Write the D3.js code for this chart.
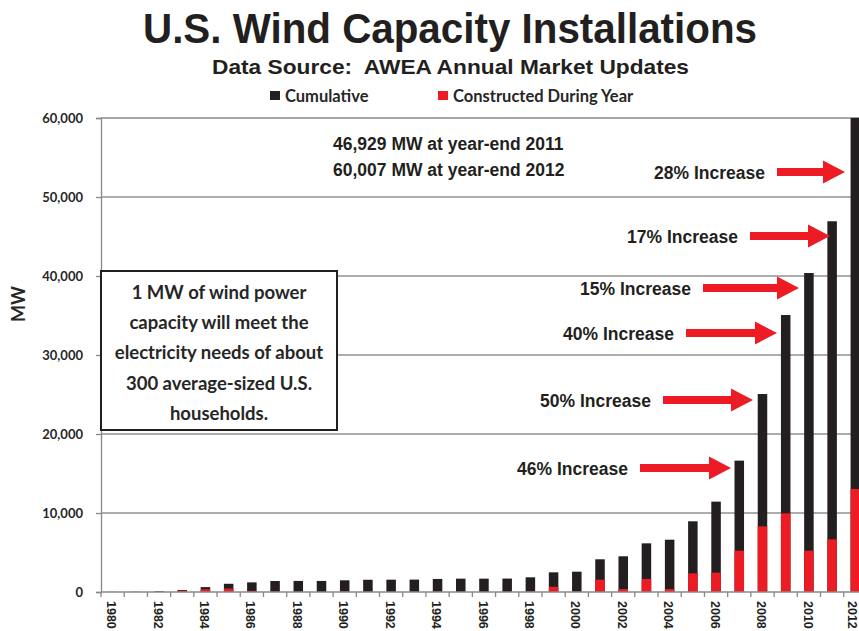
<!DOCTYPE html>
<html>
<head>
<meta charset="utf-8">
<script src="https://cdn.jsdelivr.net/npm/d3@7"></script>
<style>
  html, body { margin: 0; padding: 0; background: #fff; }
  svg { display: block; }
</style>
</head>
<body>
<script>
// ---- Data ----
const years = d3.range(1980, 2013);
const cumulative = [10, 18, 84, 250, 620, 1040, 1220, 1390, 1400, 1400, 1480, 1550, 1560, 1570, 1650, 1690, 1690, 1700, 1860, 2490, 2570, 4140, 4520, 6160, 6620, 8950, 11440, 16630, 25060, 35060, 40380, 46929, 60007];
const constructed = [10, 8, 66, 170, 350, 430, 150, 60, 20, 10, 80, 50, 10, 10, 60, 30, 10, 10, 100, 660, 60, 1560, 380, 1650, 380, 2360, 2450, 5230, 8310, 9960, 5230, 6670, 13040];
const yTicks = [0, 10000, 20000, 30000, 40000, 50000, 60000];
const xLabelYears = years.filter(y => y % 2 === 0);
const seriesNames = ["Cumulative", "Constructed During Year"];
const increaseYears = [2007, 2008, 2009, 2010, 2011, 2012];
const increaseLabels = ["46% Increase", "50% Increase", "40% Increase", "15% Increase", "17% Increase", "28% Increase"];
const noteLines = ["46,929 MW at year-end 2011", "60,007 MW at year-end 2012"];
const boxLines = ["1 MW of wind power", "capacity will meet the", "electricity needs of about", "300 average-sized U.S.", "households."];

// ---- Setup ----
const W = 859, H = 631;
const plotLeft = 101, plotBottom = 592, plotTop = 118;
const step = 23.21;
const svg = d3.select("body").append("svg").attr("width", W).attr("height", H);
svg.append("rect").attr("width", W).attr("height", H).attr("fill", "#fff");

const x = d3.scaleBand().domain(years).range([plotLeft, plotLeft + step * years.length])
  .paddingInner(0.59).paddingOuter(0.295);
const y = d3.scaleLinear().domain([0, 60000]).range([plotBottom, plotTop]);

const BLACK = "#231f20", RED = "#ed1c24";
const SANS = "'Liberation Sans', Arial, sans-serif";
const CAL = "Lato, 'Open Sans', sans-serif";

// Title
svg.append("text").attr("x", 450).attr("y", 43).attr("text-anchor", "middle")
  .attr("font-family", SANS).attr("font-weight", "bold").attr("font-size", 42)
  .attr("textLength", 614).attr("lengthAdjust", "spacingAndGlyphs")
  .attr("fill", BLACK).text("U.S. Wind Capacity Installations");
svg.append("text").attr("x", 450.5).attr("y", 74).attr("text-anchor", "middle")
  .attr("font-family", SANS).attr("font-weight", "bold").attr("font-size", 21)
  .attr("textLength", 477).attr("lengthAdjust", "spacingAndGlyphs")
  .style("white-space", "pre")
  .attr("fill", BLACK).text("Data Source:\u00a0 AWEA Annual Market Updates");

// Legend
const legendX = [270, 438];
const legendColors = [BLACK, RED];
seriesNames.forEach((n, i) => {
  svg.append("rect").attr("x", legendX[i]).attr("y", 91).attr("width", 10).attr("height", 9).attr("fill", legendColors[i]);
  svg.append("text").attr("x", legendX[i] + 15).attr("y", 102)
    .attr("font-family", CAL).attr("font-weight", "bold").attr("font-size", 16.5)
    .attr("fill", "#262626").text(n);
});

// Gridlines
svg.append("g").selectAll("line").data(yTicks.filter(d => d > 0)).join("line")
  .attr("x1", plotLeft).attr("x2", W).attr("y1", d => y(d)).attr("y2", d => y(d))
  .attr("stroke", d => d === 60000 ? "#8a8a8a" : "#5a5a5a")
  .attr("stroke-width", d => d === 60000 ? 1.6 : 1);

// Y axis
const yAxis = d3.axisLeft(y).tickValues(yTicks).tickSize(5).tickPadding(13)
  .tickFormat(d3.format(","));
const gy = svg.append("g").attr("transform", `translate(${plotLeft},0)`).call(yAxis);
gy.select(".domain").attr("stroke", "#888").attr("stroke-width", 1.3);
gy.selectAll(".tick line").attr("stroke", "#888").attr("stroke-width", 1.3);
gy.selectAll(".tick text").attr("font-family", CAL).attr("font-weight", "bold")
  .attr("font-size", 13).attr("fill", "#262626");

svg.append("text").attr("transform", "translate(19,304) rotate(-90)")
  .attr("text-anchor", "middle").attr("dy", "0.35em")
  .attr("font-family", CAL).attr("font-weight", "bold").attr("font-size", 18)
  .attr("fill", "#262626").text("MW");

// Bars
const bw = x.bandwidth();
svg.append("g").selectAll("rect").data(years).join("rect")
  .attr("x", d => x(d)).attr("width", bw)
  .attr("y", (d, i) => y(cumulative[i])).attr("height", (d, i) => y(0) - y(cumulative[i]))
  .attr("fill", BLACK);
svg.append("g").selectAll("rect").data(years).join("rect")
  .attr("x", d => x(d)).attr("width", bw)
  .attr("y", (d, i) => y(constructed[i])).attr("height", (d, i) => y(0) - y(constructed[i]))
  .attr("fill", RED);

// X axis
const boundaries = years.map(d => x(d) + bw / 2 - step / 2).concat([x(2012) + bw / 2 + step / 2]);
svg.append("line").attr("x1", plotLeft).attr("x2", W).attr("y1", y(0)).attr("y2", y(0))
  .attr("stroke", "#888").attr("stroke-width", 1.5);
svg.append("g").selectAll("line").data(boundaries).join("line")
  .attr("x1", d => d).attr("x2", d => d).attr("y1", y(0)).attr("y2", y(0) + 5)
  .attr("stroke", "#888").attr("stroke-width", 1.3);
svg.append("g").selectAll("text").data(xLabelYears).join("text")
  .attr("transform", d => `translate(${Math.min(x(d) + bw / 2 - 1, 852)},601) rotate(90)`)
  .attr("dy", "0.35em")
  .attr("font-family", SANS).attr("font-weight", "bold").attr("font-size", 12.5)
  .attr("fill", BLACK).text(d => d);

// Notes
noteLines.forEach((t, i) => {
  svg.append("text").attr("x", 333).attr("y", 150 + i * 25.5)
    .attr("font-family", SANS).attr("font-weight", "bold").attr("font-size", 17.5)
    .attr("fill", BLACK).text(t);
});

// Info box
svg.append("rect").attr("x", 101).attr("y", 271).attr("width", 236).attr("height", 159)
  .attr("fill", "#fff").attr("stroke", BLACK).attr("stroke-width", 2);
boxLines.forEach((t, i) => {
  svg.append("text").attr("x", 219).attr("y", 299 + i * 30.2).attr("text-anchor", "middle")
    .attr("font-family", CAL).attr("font-weight", "bold").attr("font-size", 18.5)
    .attr("fill", "#262626").text(t);
});

// Increase arrows
const arrowY = [468, 400, 333, 288, 236, 172];
const arrowTip = [731, 753, 777, 799, 830, 845];
const arrowLen = [91, 90, 91, 96, 80, 68];
increaseYears.forEach((yr, i) => {
  const yy = arrowY[i], tip = arrowTip[i], start = tip - arrowLen[i];
  const hl = 22, sh = 4, hh = 11.5;
  svg.append("path")
    .attr("d", `M${start},${yy - sh}L${tip - hl},${yy - sh}L${tip - hl},${yy - hh}L${tip},${yy}L${tip - hl},${yy + hh}L${tip - hl},${yy + sh}L${start},${yy + sh}Z`)
    .attr("fill", RED);
  svg.append("text").attr("x", start - 12).attr("y", yy + 6.5).attr("text-anchor", "end")
    .attr("font-family", SANS).attr("font-weight", "bold").attr("font-size", 17.5)
    .attr("fill", BLACK).text(increaseLabels[i]);
});
</script>
</body>
</html>
